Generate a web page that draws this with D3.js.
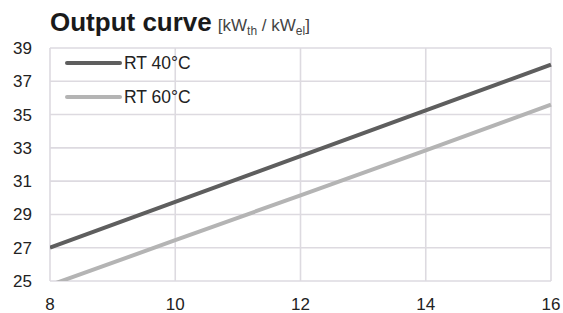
<!DOCTYPE html>
<html>
<head>
<meta charset="utf-8">
<script src="https://cdn.jsdelivr.net/npm/d3@7"></script>
<style>
  body { margin: 0; background: #fff; }
  svg { font-family: "Liberation Sans", Arial, sans-serif; }
</style>
</head>
<body>
<div id="vis"></div>
<script>
// data
var xValues = [8, 10, 12, 14, 16];
var rt40 = [27.0, 29.75, 32.5, 35.25, 38.0];
var rt60 = [24.75, 27.45, 30.15, 32.85, 35.6];
var seriesNames = ['RT 40°C', 'RT 60°C'];
var xTicks = [8, 10, 12, 14, 16];
var yTicks = [25, 27, 29, 31, 33, 35, 37, 39];

var width = 563;
var height = 313;
var margin = { top: 48, right: 12, bottom: 32, left: 50 };

var svg = d3.select('#vis').append('svg')
  .attr('width', width)
  .attr('height', height);

var x = d3.scaleLinear().domain([8, 16]).range([margin.left, width - margin.right]);
var y = d3.scaleLinear().domain([25, 39]).range([height - margin.bottom, margin.top]);

// grid lines
svg.append('g').selectAll('line')
  .data(yTicks)
  .enter().append('line')
  .attr('x1', x(8)).attr('x2', x(16))
  .attr('y1', function (d) { return y(d); })
  .attr('y2', function (d) { return y(d); })
  .attr('stroke', '#dddae0')
  .attr('stroke-width', 1.6);

svg.append('g').selectAll('line')
  .data(xTicks)
  .enter().append('line')
  .attr('x1', function (d) { return x(d); })
  .attr('x2', function (d) { return x(d); })
  .attr('y1', y(39)).attr('y2', y(25))
  .attr('stroke', '#dddae0')
  .attr('stroke-width', 1.6);

// tick labels
svg.append('g').selectAll('text')
  .data(yTicks)
  .enter().append('text')
  .attr('x', 32)
  .attr('y', function (d) { return y(d) + 6; })
  .attr('text-anchor', 'end')
  .attr('font-size', 17)
  .attr('fill', '#222')
  .text(function (d) { return d; });

svg.append('g').selectAll('text')
  .data(xTicks)
  .enter().append('text')
  .attr('x', function (d) { return x(d); })
  .attr('y', 310)
  .attr('text-anchor', 'middle')
  .attr('font-size', 17)
  .attr('fill', '#222')
  .text(function (d) { return d; });

// clip lines to plot area
svg.append('clipPath').attr('id', 'plot')
  .append('rect')
  .attr('x', x(8)).attr('y', y(39) - 4)
  .attr('width', x(16) - x(8) + 4)
  .attr('height', y(25) - y(39) + 4);

var line = d3.line()
  .x(function (d) { return x(d[0]); })
  .y(function (d) { return y(d[1]); });

var colors = ['#5e5e5e', '#b4b4b4'];
[rt40, rt60].forEach(function (vals, i) {
  svg.append('path')
    .datum(d3.zip(xValues, vals))
    .attr('d', line)
    .attr('fill', 'none')
    .attr('stroke', colors[i])
    .attr('stroke-width', 4)
    .attr('clip-path', 'url(#plot)');
});

// legend
var legendY = [63, 97];
seriesNames.forEach(function (name, i) {
  svg.append('line')
    .attr('x1', 67).attr('x2', 120)
    .attr('y1', legendY[i]).attr('y2', legendY[i])
    .attr('stroke', colors[i])
    .attr('stroke-width', 4)
    .attr('stroke-linecap', 'round');
  svg.append('text')
    .attr('x', 124)
    .attr('y', legendY[i] + 6)
    .attr('font-size', 17.5)
    .attr('fill', '#222')
    .text(name);
});

// title
var title = svg.append('text')
  .attr('x', 50)
  .attr('y', 31);
title.append('tspan')
  .attr('font-size', 26)
  .attr('font-weight', 'bold')
  .attr('fill', '#1a1a1a')
  .text('Output curve');
var unit = title.append('tspan')
  .attr('font-size', 17)
  .attr('fill', '#444')
  .attr('dx', 6);
unit.append('tspan').text('[kW');
unit.append('tspan').attr('font-size', 12).attr('dy', 4).text('th');
unit.append('tspan').attr('dy', -4).text(' / kW');
unit.append('tspan').attr('font-size', 12).attr('dy', 4).text('el');
unit.append('tspan').attr('dy', -4).text(']');
</script>
</body>
</html>
